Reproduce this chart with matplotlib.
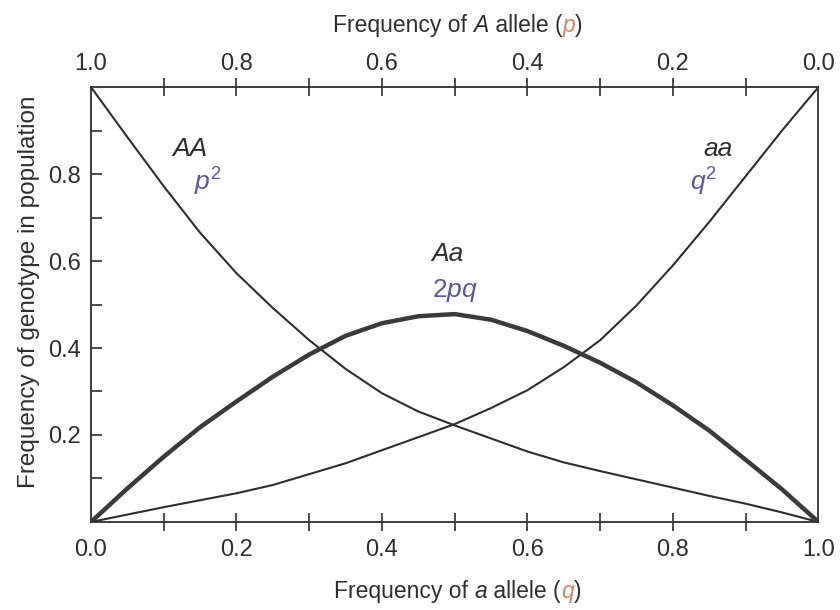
import matplotlib
matplotlib.use("Agg")
import matplotlib.pyplot as plt
from matplotlib.offsetbox import TextArea, HPacker, AnchoredOffsetbox

# frequency of a allele (q), bottom axis
q_vals = [0.0, 0.05, 0.1, 0.15, 0.2, 0.25, 0.3, 0.35, 0.4, 0.45, 0.5,
          0.55, 0.6, 0.65, 0.7, 0.75, 0.8, 0.85, 0.9, 0.95, 1.0]
# genotype frequencies
AA_vals = [1.0, 0.885, 0.772, 0.665, 0.572, 0.492, 0.418, 0.352, 0.296, 0.254, 0.222,
           0.192, 0.162, 0.137, 0.117, 0.098, 0.079, 0.06, 0.042, 0.022, 0.0]
Aa_vals = [0.0, 0.077, 0.15, 0.218, 0.277, 0.334, 0.385, 0.428, 0.457, 0.473, 0.478,
           0.465, 0.439, 0.405, 0.366, 0.321, 0.268, 0.21, 0.143, 0.075, 0.0]
aa_vals = [0.0, 0.017, 0.034, 0.05, 0.066, 0.085, 0.11, 0.135, 0.165, 0.195, 0.225,
           0.262, 0.303, 0.356, 0.418, 0.498, 0.59, 0.69, 0.795, 0.90, 1.0]

major_ticks = [0.0, 0.2, 0.4, 0.6, 0.8, 1.0]
minor_ticks = [0.1, 0.3, 0.5, 0.7, 0.9]
y_major = [0.2, 0.4, 0.6, 0.8]

plt.rcParams['font.family'] = ['Liberation Sans', 'DejaVu Sans']
plt.rcParams['mathtext.fontset'] = 'custom'
plt.rcParams['mathtext.it'] = 'Liberation Sans:italic'
plt.rcParams['mathtext.rm'] = 'Liberation Sans'

INK = '#2e2e2e'
PURPLE = '#5a5a92'
ORANGE = '#d3876a'

fig = plt.figure(figsize=(8.4, 6.1), dpi=100)
ax = fig.add_axes([0.1083, 0.1443, 0.866, 0.7130])

ax.plot(q_vals, AA_vals, color=INK, lw=1.5, solid_capstyle='round')
ax.plot(q_vals, aa_vals, color=INK, lw=1.5, solid_capstyle='round')
ax.plot(q_vals, Aa_vals, color='#3a3a3a', lw=3.2, solid_capstyle='round')

ax.set_xlim(0, 1)
ax.set_ylim(0, 1)

for s in ax.spines.values():
    s.set_color(INK)
    s.set_linewidth(1.3)

# bottom axis
ax.set_xticks(major_ticks)
ax.set_xticks(minor_ticks, minor=True)
ax.set_xticklabels(['%.1f' % t for t in major_ticks])
ax.tick_params(axis='x', which='both', direction='inout', length=13, width=1.2,
               colors=INK, labelsize=17, pad=6)

# left axis
ax.set_yticks(y_major)
ax.set_yticks(minor_ticks, minor=True)
ax.set_yticklabels(['%.1f' % t for t in y_major])
ax.tick_params(axis='y', which='both', direction='in', length=8, width=1.2,
               colors=INK, labelsize=17, pad=7)
ax.set_ylabel('Frequency of genotype in population', fontsize=17.5, color=INK)
ax.yaxis.set_label_coords(-0.07, 0.53)

# top axis, p = 1 - q
top = ax.secondary_xaxis('top', functions=(lambda q: 1 - q, lambda p: 1 - p))
top.set_xticks(major_ticks)
top.set_xticks(minor_ticks, minor=True)
top.set_xticklabels(['%.1f' % t for t in major_ticks])
top.tick_params(axis='x', which='both', direction='inout', length=13, width=1.2,
                colors=INK, labelsize=17, pad=2)
top.spines['top'].set_visible(False)

# no tick marks at the corners, labels only
for axis in (ax.xaxis, top.xaxis):
    ticks = axis.get_major_ticks()
    for t in (ticks[0], ticks[-1]):
        t.tick1line.set_visible(False)
        t.tick2line.set_visible(False)


def multi_label(parts, loc_xy):
    boxes = []
    for txt, style, col in parts:
        boxes.append(TextArea(txt, textprops=dict(fontsize=16.5, color=col, fontstyle=style)))
    pack = HPacker(children=boxes, align='baseline', pad=0, sep=0)
    ab = AnchoredOffsetbox(loc='center', child=pack, frameon=False,
                           bbox_to_anchor=loc_xy, bbox_transform=fig.transFigure, pad=0,
                           borderpad=0)
    fig.add_artist(ab)


multi_label([('Frequency of ', 'normal', INK), ('A', 'italic', INK), (' allele (', 'normal', INK),
             ('p', 'italic', ORANGE), (')', 'normal', INK)], (0.545, 0.958))
multi_label([('Frequency of ', 'normal', INK), ('a', 'italic', INK), (' allele (', 'normal', INK),
             ('q', 'italic', ORANGE), (')', 'normal', INK)], (0.545, 0.030))

# curve labels
ax.text(0.136, 0.858, 'AA', fontsize=19, style='italic', color=INK, ha='center', va='center')
ax.text(0.160, 0.783, '$p^2$', fontsize=19, color=PURPLE, ha='center', va='center')
ax.text(0.490, 0.615, 'Aa', fontsize=19, style='italic', color=INK, ha='center', va='center')
ax.text(0.500, 0.532, '$2pq$', fontsize=19, color=PURPLE, ha='center', va='center')
ax.text(0.862, 0.858, 'aa', fontsize=19, style='italic', color=INK, ha='center', va='center')
ax.text(0.842, 0.781, '$q^2$', fontsize=19, color=PURPLE, ha='center', va='center')

fig.savefig('out.png', dpi=100)
